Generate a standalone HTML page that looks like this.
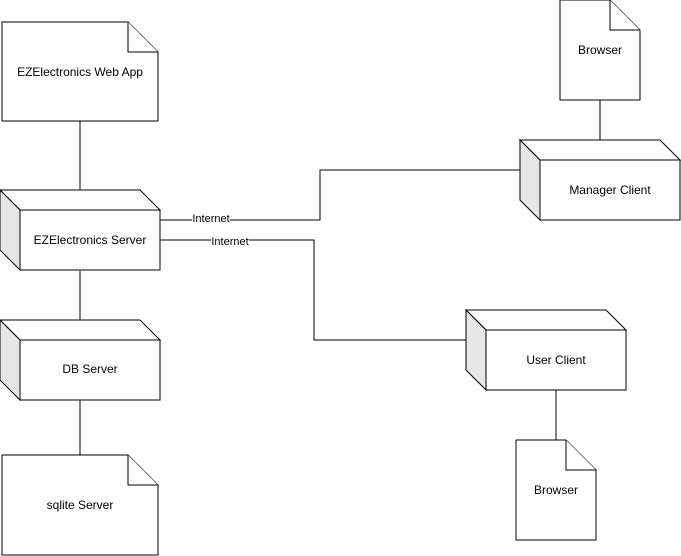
<!DOCTYPE html>
<html><head><style>body{margin:0;background:#fff}svg{display:block}</style></head><body>
<svg width="681" height="556" xmlns="http://www.w3.org/2000/svg" font-family="Liberation Sans, sans-serif" font-size="12">
<g stroke="#000" fill="none">
<path d="M80 121V190M80 270V320M80 400V455M600 100V140M556 390V440"/>
<path d="M160 220H320V170H520M160 240H314V340H466"/>
</g>
<g stroke="#000" fill="#fff">
<path d="M2 22H128L158 52V121H2Z"/><path d="M128 22V52H158"/>
<path d="M560 0H610L640 30V100H560Z"/><path d="M610 0V30H640"/>
<path d="M516 440H566L596 470V540H516Z"/><path d="M566 440V470H596"/>
<path d="M2 455H128L158 485V555H2Z"/><path d="M128 455V485H158"/>
</g>
<defs>
<g id="n" stroke="#000">
<path d="M0 0H140L160 20H20Z" fill="#fff"/>
<path d="M0 0L20 20V80L0 60Z" fill="#e6e6e6"/>
<rect x="20" y="20" width="140" height="60" fill="#fff"/>
</g>
</defs>
<use href="#n" x="0" y="190"/>
<use href="#n" x="0" y="320"/>
<use href="#n" x="520" y="140"/>
<use href="#n" x="466" y="310"/>
<g fill="#fff"><rect x="192" y="212" width="38" height="12"/><rect x="211" y="235" width="38" height="12"/></g>
<g text-anchor="middle" fill="#000">
<text x="80" y="76">EZElectronics Web App</text>
<text x="600" y="54">Browser</text>
<text x="556" y="494">Browser</text>
<text x="80" y="509">sqlite Server</text>
<text x="90" y="244">EZElectronics Server</text>
<text x="90" y="373">DB Server</text>
<text x="610" y="194">Manager Client</text>
<text x="556" y="364">User Client</text>
<text x="211" y="222" font-size="11">Internet</text>
<text x="230" y="245" font-size="11">Internet</text>
</g>
</svg>
</body></html>
